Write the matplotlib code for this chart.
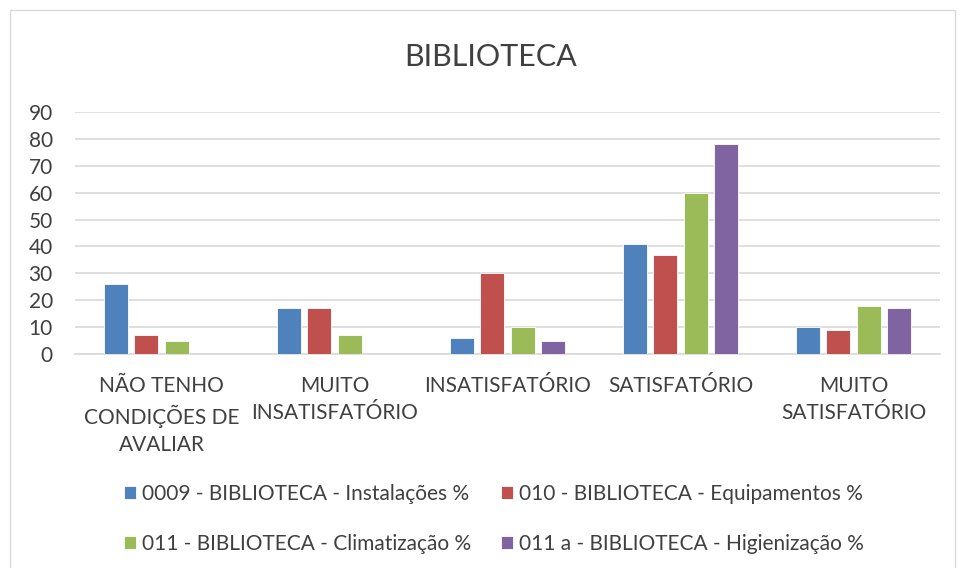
import numpy as np
import matplotlib
matplotlib.use("Agg")
import matplotlib.pyplot as plt
from matplotlib.patches import Rectangle

categories = ["NÃO TENHO\nCONDIÇÕES DE\nAVALIAR", "MUITO\nINSATISFATÓRIO",
              "INSATISFATÓRIO", "SATISFATÓRIO", "MUITO\nSATISFATÓRIO"]
series_names = ["0009 - BIBLIOTECA - Instalações %",
                "010 - BIBLIOTECA - Equipamentos %",
                "011 - BIBLIOTECA - Climatização %",
                "011 a - BIBLIOTECA - Higienização %"]
instalacoes = [26, 17, 6, 41, 10]
equipamentos = [7, 17, 30, 37, 9]
climatizacao = [5, 7, 10, 60, 18]
higienizacao = [0, 0, 5, 78, 17]
colors = ["#4F81BD", "#C0504D", "#9BBB59", "#8064A2"]

plt.rcParams["font.family"] = ["Lato", "DejaVu Sans"]
fig = plt.figure(figsize=(9.64, 5.68), dpi=100)
fig.patches.append(Rectangle((10 / 964, -0.01), 945 / 964, 1 - 10 / 568 + 0.01,
                             transform=fig.transFigure, fill=False,
                             edgecolor="#D9D9D9", lw=1))
ax = fig.add_axes([75 / 964, 1 - 354 / 568, 865 / 964, 242 / 568])

x = np.arange(len(categories))
w, step = 0.14, 0.175
bars = []
for i, (vals, name) in enumerate(zip([instalacoes, equipamentos, climatizacao, higienizacao],
                                     series_names)):
    bars.append(ax.bar(x + (i - 1.5) * step, vals, w, color=colors[i], label=name,
                       edgecolor="white", linewidth=0.6, zorder=3))

ax.set_xlim(-0.5, len(categories) - 0.5)
ax.set_ylim(0, 90)
ax.set_yticks(range(0, 91, 10))
ax.yaxis.grid(True, color="#D9D9D9", lw=1.2, zorder=0)
ax.tick_params(axis="y", length=0, labelsize=15, labelcolor="#404040", pad=16)
ax.tick_params(axis="x", length=0, labelsize=15, labelcolor="#404040", pad=16)
ax.set_xticks(x)
ax.set_xticklabels(categories, linespacing=1.45)
for s in ["top", "right", "left"]:
    ax.spines[s].set_visible(False)
ax.spines["bottom"].set_color("#D9D9D9")
ax.spines["bottom"].set_linewidth(1.2)

fig.text(491 / 964, 1 - 57 / 568, "BIBLIOTECA", ha="center", va="center",
         fontsize=22, color="#404040")

# row-major order like the original legend
order = [0, 2, 1, 3]
fig.legend([bars[k] for k in order], [series_names[k] for k in order],
           loc="center", bbox_to_anchor=(494 / 964, 1 - 519 / 568), ncol=2,
           frameon=False, fontsize=15, handlelength=0.6, handleheight=0.6,
           handletextpad=0.3, columnspacing=1.4, labelspacing=1.45,
           labelcolor="#404040")

fig.savefig("out.png", dpi=100)
